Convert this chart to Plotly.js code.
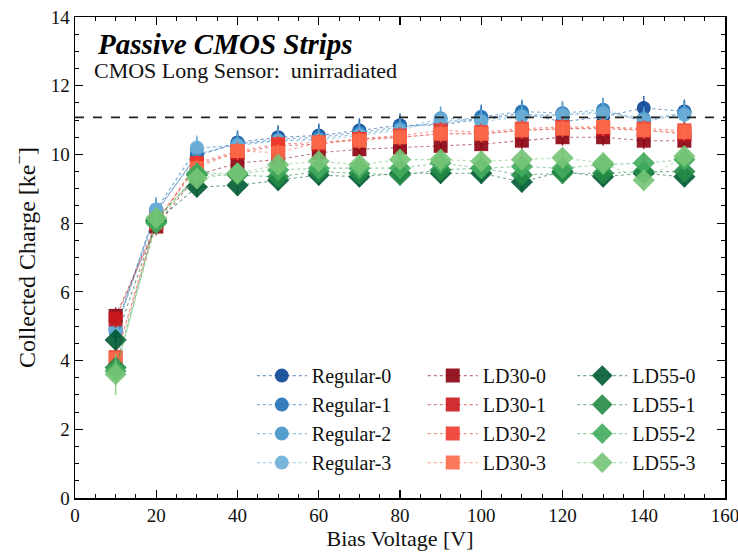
<!DOCTYPE html>
<html>
<head>
<meta charset="utf-8">
<script src="https://cdn.plot.ly/plotly-3.0.1.min.js"></script>
<style>html,body{margin:0;padding:0;background:#fff;}#chart{width:738px;height:554px;}</style>
</head>
<body>
<div id="chart"></div>
<script>
// Bias voltage points [V]
const biasVoltage = [10, 20, 30, 40, 50, 60, 70, 80, 90, 100, 110, 120, 130, 140, 150];

// Collected charge [ke-]
const regular0 = [4.95, 8.35, 9.95, 10.35, 10.50, 10.55, 10.70, 10.85, 10.85, 11.05, 11.20, 10.95, 11.10, 11.35, 11.25];
const regular1 = [4.85, 8.30, 10.00, 10.30, 10.45, 10.50, 10.65, 10.80, 10.90, 11.10, 11.25, 11.20, 11.30, 10.95, 11.20];
const regular2 = [4.90, 8.40, 10.15, 10.30, 10.40, 10.45, 10.60, 10.75, 11.05, 11.00, 11.15, 11.15, 11.25, 11.05, 11.20];
const regular3 = [4.90, 8.40, 10.20, 10.25, 10.40, 10.40, 10.55, 10.70, 11.00, 10.95, 11.10, 11.15, 11.20, 11.00, 11.15];

const ld30_0 = [5.30, 7.90, 9.40, 9.75, 9.85, 10.05, 10.15, 10.20, 10.25, 10.30, 10.40, 10.50, 10.50, 10.40, 10.40];
const ld30_1 = [5.20, 8.00, 9.70, 10.05, 10.25, 10.30, 10.45, 10.50, 10.60, 10.60, 10.70, 10.75, 10.75, 10.70, 10.60];
const ld30_2 = [4.10, 8.00, 9.75, 10.10, 10.30, 10.35, 10.45, 10.55, 10.70, 10.65, 10.75, 10.80, 10.80, 10.75, 10.70];
const ld30_3 = [4.05, 8.10, 9.60, 10.10, 10.05, 10.35, 10.40, 10.50, 10.60, 10.60, 10.70, 10.75, 10.80, 10.70, 10.65];

const ld55_0 = [4.60, 8.05, 9.05, 9.10, 9.25, 9.40, 9.35, 9.45, 9.45, 9.45, 9.20, 9.50, 9.35, 9.45, 9.35];
const ld55_1 = [3.80, 8.10, 9.40, 9.40, 9.35, 9.50, 9.45, 9.40, 9.55, 9.60, 9.40, 9.45, 9.45, 9.50, 9.50];
const ld55_2 = [3.70, 8.00, 9.45, 9.45, 9.55, 9.60, 9.60, 9.60, 9.75, 9.60, 9.65, 9.60, 9.70, 9.75, 9.85];
const ld55_3 = [3.60, 8.15, 9.30, 9.45, 9.70, 9.80, 9.70, 9.85, 9.85, 9.80, 9.85, 9.90, 9.75, 9.25, 9.95];

// Uncertainties [ke-]
const errRegular = [0.35, 0.35, 0.35, 0.35, 0.35, 0.35, 0.35, 0.35, 0.35, 0.35, 0.35, 0.35, 0.35, 0.35, 0.35];
const errLD30    = [0.25, 0.25, 0.25, 0.25, 0.25, 0.25, 0.25, 0.25, 0.25, 0.25, 0.25, 0.25, 0.25, 0.25, 0.25];
const errLD55    = [0.30, 0.30, 0.30, 0.30, 0.30, 0.30, 0.30, 0.30, 0.30, 0.30, 0.30, 0.30, 0.30, 0.30, 0.30];
const errLD55_3  = [0.60, 0.30, 0.30, 0.30, 0.30, 0.30, 0.30, 0.30, 0.30, 0.30, 0.30, 0.30, 0.30, 0.30, 0.30];

const seriesNames = ['Regular-0','Regular-1','Regular-2','Regular-3','LD30-0','LD30-1','LD30-2','LD30-3','LD55-0','LD55-1','LD55-2','LD55-3'];
const seriesValues = [regular0, regular1, regular2, regular3, ld30_0, ld30_1, ld30_2, ld30_3, ld55_0, ld55_1, ld55_2, ld55_3];
const seriesErrors = [errRegular, errRegular, errRegular, errRegular, errLD30, errLD30, errLD30, errLD30, errLD55, errLD55, errLD55, errLD55_3];
const seriesColors = [[8,69,148],[33,113,181],[66,146,198],[107,174,214],
                      [139,0,13],[203,24,29],[239,59,44],[251,106,74],
                      [0,90,50],[35,139,69],[65,171,93],[116,196,118]];
const seriesSymbols = ['circle','circle','circle','circle','square','square','square','square','diamond','diamond','diamond','diamond'];
const seriesLegend = ['legend','legend','legend','legend','legend2','legend2','legend2','legend2','legend3','legend3','legend3','legend3'];

const rgba = (c, a) => `rgba(${c[0]},${c[1]},${c[2]},${a})`;

const traces = seriesNames.map((name, i) => ({
  type: 'scatter',
  mode: 'lines+markers',
  name: name,
  x: biasVoltage,
  y: seriesValues[i],
  legend: seriesLegend[i],
  legendgroup: 'g' + i,
  error_y: {type: 'data', array: seriesErrors[i], visible: true, color: rgba(seriesColors[i], 0.8), thickness: 1.5, width: 0},
  line: {color: rgba(seriesColors[i], 0.55), width: 1.1, dash: 'dot'},
  marker: {symbol: seriesSymbols[i], color: rgba(seriesColors[i], 0.9),
           size: seriesSymbols[i] === 'diamond' ? 17 : 14,
           line: {width: 0}}
}));

const serif = 'Liberation Serif, DejaVu Serif, serif';
const legendCommon = {
  bgcolor: 'rgba(0,0,0,0)', borderwidth: 0,
  font: {family: serif, size: 20, color: '#111'},
  tracegroupgap: 0, itemwidth: 50,
  xanchor: 'left', yanchor: 'top', yref: 'paper'
};

const axisCommon = {
  showgrid: false, zeroline: false,
  showline: true, linecolor: '#000', linewidth: 1.5, mirror: 'allticks',
  ticks: 'inside', ticklen: 8, tickwidth: 1.2, tickcolor: '#000',
  tickfont: {family: serif, size: 19, color: '#111'},
  ticklabeloverflow: 'allow'
};

const layout = {
  width: 738, height: 554,
  margin: {l: 75, r: 13, t: 17, b: 56},
  paper_bgcolor: '#fff', plot_bgcolor: '#fff',
  showlegend: true,
  xaxis: Object.assign({}, axisCommon, {
    range: [0, 160], dtick: 20, tick0: 0,
    minor: {dtick: 5, ticks: 'inside', ticklen: 4, tickwidth: 1, tickcolor: '#000', showgrid: false},
    title: {text: 'Bias Voltage [V]', font: {family: serif, size: 22, color: '#111'}, standoff: 4}
  }),
  yaxis: Object.assign({}, axisCommon, {
    range: [0, 14], dtick: 2, tick0: 0,
    minor: {dtick: 0.5, ticks: 'inside', ticklen: 4, tickwidth: 1, tickcolor: '#000', showgrid: false},
    title: {text: 'Collected Charge [ke<sup>−</sup>]', font: {family: serif, size: 24, color: '#111'}, standoff: 8}
  }),
  legend: Object.assign({}, legendCommon, {x: 0.272, y: 0.295}),
  legend2: Object.assign({}, legendCommon, {x: 0.535, y: 0.295}),
  legend3: Object.assign({}, legendCommon, {x: 0.765, y: 0.295}),
  shapes: [{type: 'line', xref: 'paper', x0: 0, x1: 1, yref: 'y', y0: 11.08, y1: 11.08,
            line: {color: '#222', width: 1.8, dash: 'dash'}}],
  annotations: [
    {xref: 'paper', yref: 'paper', x: 0.03, y: 0.982, xanchor: 'left', yanchor: 'top', showarrow: false,
     text: '<b><i>Passive CMOS Strips</i></b>', font: {family: serif, size: 29, color: '#000'}},
    {xref: 'paper', yref: 'paper', x: 0.026, y: 0.918, xanchor: 'left', yanchor: 'top', showarrow: false,
     text: 'CMOS Long Sensor:  unirradiated', font: {family: serif, size: 22, color: '#111'}}
  ]
};

Plotly.newPlot('chart', traces, layout, {displayModeBar: false, staticPlot: true});
</script>
</body>
</html>
